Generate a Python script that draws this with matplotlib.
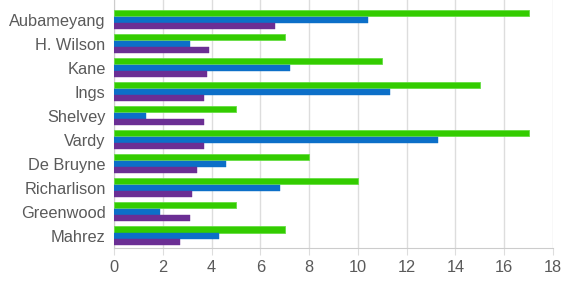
import matplotlib
matplotlib.use("Agg")
import matplotlib.pyplot as plt
import numpy as np

players = ["Aubameyang", "H. Wilson", "Kane", "Ings", "Shelvey", "Vardy",
           "De Bruyne", "Richarlison", "Greenwood", "Mahrez"]
series_green = [17, 7, 11, 15, 5, 17, 8, 10, 5, 7]
series_blue = [10.4, 3.1, 7.2, 11.3, 1.3, 13.3, 4.6, 6.8, 1.9, 4.3]
series_purple = [6.6, 3.9, 3.8, 3.7, 3.7, 3.7, 3.4, 3.2, 3.1, 2.7]
x_ticks = [0, 2, 4, 6, 8, 10, 12, 14, 16, 18]

plt.rcParams['font.family'] = ['Liberation Sans', 'DejaVu Sans']

W, H = 565, 282
fig = plt.figure(figsize=(W / 100, H / 100), dpi=100)
left, right, top, bottom = 114, 553, 0, 248
ax = fig.add_axes([left / W, 1 - bottom / H, (right - left) / W, (bottom - top) / H])

y = np.arange(len(players))
h = 0.25
off = 0.27
ax.barh(y - off, series_green, height=h, color="#33cc00", edgecolor="#66dd44", linewidth=0.6, zorder=3)
ax.barh(y, series_blue, height=h, color="#0c6fc8", edgecolor="#0c6fc8", linewidth=0.3, zorder=3)
ax.barh(y + off, series_purple, height=h, color="#6b2e94", edgecolor="#6b2e94", linewidth=0.3, zorder=3)

ax.set_xlim(0, 18)
ax.set_ylim(9.5, -0.5 - 7.7 / 24)
ax.set_yticks(y)
ax.set_yticklabels(players)
ax.set_xticks(x_ticks)
ax.set_xticklabels([str(t) for t in x_ticks])

ax.grid(axis="x", color="#dddddd", linewidth=1, zorder=0)
for s in ["top", "right"]:
    ax.spines[s].set_visible(False)
ax.spines["left"].set_color("#cccccc")
ax.spines["bottom"].set_color("#cccccc")
ax.tick_params(axis="y", length=0, pad=6, labelsize=11.8, labelcolor="#5a5a5a")
ax.tick_params(axis="x", length=5, color="#dddddd", pad=4, labelsize=11.8, labelcolor="#5a5a5a")

fig.savefig("out.png", dpi=100)
